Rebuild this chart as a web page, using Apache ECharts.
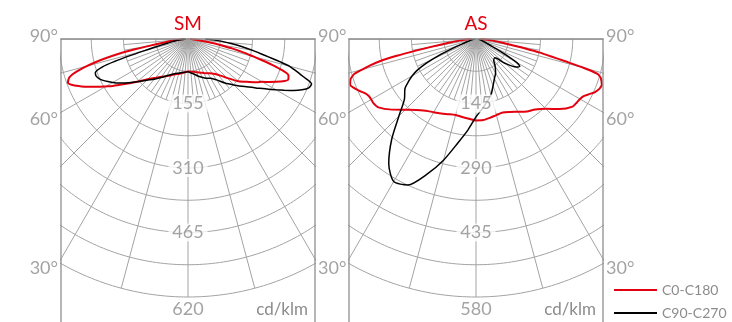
<!DOCTYPE html>
<html><head><meta charset="utf-8">
<script src="https://cdn.jsdelivr.net/npm/echarts@6/dist/echarts.min.js"></script>
<style>html,body{margin:0;padding:0;background:#fff}#c{width:732px;height:322px}</style>
</head><body><div id="c"></div>
<script>
// ---------- data ----------
const ANGLES = [0,5,10,15,20,25,30,35,40,45,50,55,58,60,62,64,66,68,70,72,73,74,75,76,77,78,79,80,82,84,86,88,90];

const TITLES = ['SM', 'AS'];
const SERIES_NAMES = ['C0-C180', 'C90-C270'];
const SM_TICKS = [155, 310, 465, 620];
const AS_TICKS = [145, 290, 435, 580];
const DEG_TICKS = [90, 60, 30];
const UNIT = 'cd/klm';

// SM panel
const SM_C0   = [78,79,80,83,86,90,95,101,112,132,158,180,196,206,220,235,250,260,257,232,210,185,162,145,125,108,85,70,35,22,14,9,5];
const SM_C180 = [78,80,83,87,90,96,103,111,122,137,160,190,213,228,245,262,280,297,307,300,290,272,252,228,200,168,130,95,55,35,22,14,8];
const SM_C90  = [79,82,86,92,98,104,109,120,138,156,178,206,228,244,262,282,300,313,316,290,278,265,252,230,208,188,172,158,130,104,82,60,42];
const SM_C270 = [79,80,82,85,88,94,102,113,126,140,160,184,200,209,218,227,234,238,237,215,185,145,110,85,68,55,46,40,30,22,15,9,5];

// AS panel
const AS_C0   = [183,183,180,177,176,181,189,199,207,222,245,265,268,270,274,283,293,299,301,296,292,283,250,205,172,145,115,90,58,40,26,17,10];
const AS_C180 = [183,180,178,177,180,185,190,197,208,225,247,268,272,272,273,278,287,295,301,297,292,285,265,245,222,182,140,105,62,40,27,18,10];
const AS_C90  = [175,158,143,130,112,98,88,75,62,60,85,110,116,106,78,52,36,27,22,18,16,15,14,13,12,11,10,9,8,7,6,5,5];
const AS_C270 = [175,205,238,282,324,362,370,342,295,245,210,195,178,166,150,125,92,58,34,24,20,17,15,13,12,11,10,9,7,6,5,4,3];

// ---------- layout / style ----------
const W_TOP = 39, R_PX = 258, HALF_PX = 127, H_PX = 283;
const PANEL_LEFT = [61, 349];
const RED = '#e3000f', BLACK = '#000000', GRID = '#a3a3a3', TXT = '#8c8c8c', BOX = '#8f8f8f';
const FONT = 'Lato, "Noto Sans", sans-serif';

const PANELS = [
  {title: TITLES[0], ticks: SM_TICKS, c0: SM_C0, c180: SM_C180, c90: SM_C90, c270: SM_C270, sides: [-1, 1]},
  {title: TITLES[1], ticks: AS_TICKS, c0: AS_C0, c180: AS_C180, c90: AS_C90, c270: AS_C270, sides: [1]}
];

const D = Math.PI / 180;
function pp(a, I) { return [I * Math.sin(a * D), I * Math.cos(a * D)]; }
function curve(left, right) {
  const pts = [];
  for (let i = ANGLES.length - 1; i >= 0; i--) pts.push(pp(-ANGLES[i], left[i]));
  for (let i = 0; i < ANGLES.length; i++) pts.push(pp(ANGLES[i], right[i]));
  return pts;
}

const grids = [], xAxes = [], yAxes = [], series = [], graphics = [];
PANELS.forEach((P, k) => {
  const rmax = P.ticks[P.ticks.length - 1];
  const upp = rmax / R_PX;
  const xHalf = HALF_PX * upp;
  const L = PANEL_LEFT[k], Rr = L + 2 * HALF_PX;
  grids.push({left: L, top: W_TOP, width: 2 * HALF_PX, height: H_PX, show: false});
  xAxes.push({gridIndex: k, type: 'value', min: -xHalf, max: xHalf, show: false});
  yAxes.push({gridIndex: k, type: 'value', inverse: true, min: 0, max: H_PX * upp, show: false});
  const base = {type: 'line', xAxisIndex: k, yAxisIndex: k, symbol: 'none', silent: true,
    animation: false, lineStyle: {color: GRID, width: 1}, z: 1};
  const step = P.ticks[0] / 2;
  for (let j = 1; j <= P.ticks.length * 2; j++) {
    const d = [];
    for (let a = -90; a <= 90; a += 1) d.push(pp(a, j * step));
    series.push(Object.assign({}, base, {data: d}));
  }
  for (let a = -90; a <= 90; a += 15) series.push(Object.assign({}, base, {data: [[0, 0], pp(a, rmax)]}));
  for (let a = -85; a <= 85; a += 5) if (a % 15 !== 0)
    series.push(Object.assign({}, base, {data: [[0, 0], pp(a, P.ticks[0])]}));
  // curves
  series.push({name: SERIES_NAMES[0], type: 'line', xAxisIndex: k, yAxisIndex: k, symbol: 'none',
    smooth: 0.25, animation: false, color: RED, lineStyle: {color: RED, width: 2}, z: 3,
    data: curve(P.c180, P.c0)});
  series.push({name: SERIES_NAMES[1], type: 'line', xAxisIndex: k, yAxisIndex: k, symbol: 'none',
    smooth: 0.25, animation: false, color: BLACK, lineStyle: {color: BLACK, width: 1.5}, z: 4,
    data: curve(P.c270, P.c90)});
  // radial tick labels
  series.push({type: 'scatter', xAxisIndex: k, yAxisIndex: k, symbolSize: 0, silent: true, clip: false,
    animation: false, z: 5,
    data: P.ticks.map((t, i) => ({value: [0, t], label: i === P.ticks.length - 1 ?
      {position: 'bottom', distance: 3, backgroundColor: 'transparent', padding: 0} : {}})),
    label: {show: true, position: 'inside', formatter: p => String(p.value[1]),
      color: TXT, fontSize: 18, fontFamily: FONT, backgroundColor: '#fff', padding: [0, 4]}});
  // degree labels
  P.sides.forEach(s => {
    series.push({type: 'scatter', xAxisIndex: k, yAxisIndex: k, symbolSize: 0, silent: true, clip: false,
      animation: false, z: 5,
      data: DEG_TICKS.map(dg => ({value: [s * xHalf, xHalf * Math.cos(dg * D) / Math.sin(dg * D)], deg: dg,
        label: {offset: [0, dg === 90 ? -3 : (dg === 60 ? 7 : 9)]}})),
      label: {show: true, position: s < 0 ? 'left' : 'right', distance: 3,
        formatter: p => p.data.deg + '°', color: TXT, fontSize: 18, fontFamily: FONT}});
  });
  // frame (open at the bottom)
  graphics.push({type: 'polyline', z: 10, silent: true,
    shape: {points: [[L, 340], [L, W_TOP], [Rr, W_TOP], [Rr, 340]]},
    style: {stroke: BOX, lineWidth: 1.3, fill: null}});
  const cx = L + HALF_PX;
  graphics.push({type: 'text', x: cx, y: 24, style: {text: P.title, align: 'center', verticalAlign: 'middle',
    fill: RED, font: '19px ' + FONT}});
  graphics.push({type: 'text', x: Rr - 7, y: 310, style: {text: UNIT, align: 'right',
    verticalAlign: 'middle', fill: TXT, font: '17px ' + FONT}});
});

const chart = echarts.init(document.getElementById('c'), null, {renderer: 'canvas'});
chart.setOption({
  animation: false,
  grid: grids, xAxis: xAxes, yAxis: yAxes, series: series, graphic: graphics,
  legend: {data: SERIES_NAMES, orient: 'vertical', left: 614, top: 283, padding: 0, itemWidth: 43, itemHeight: 2,
    itemGap: 9, icon: 'rect', selectedMode: false,
    textStyle: {fontSize: 14, color: TXT, fontFamily: FONT}}
});
</script></body></html>
